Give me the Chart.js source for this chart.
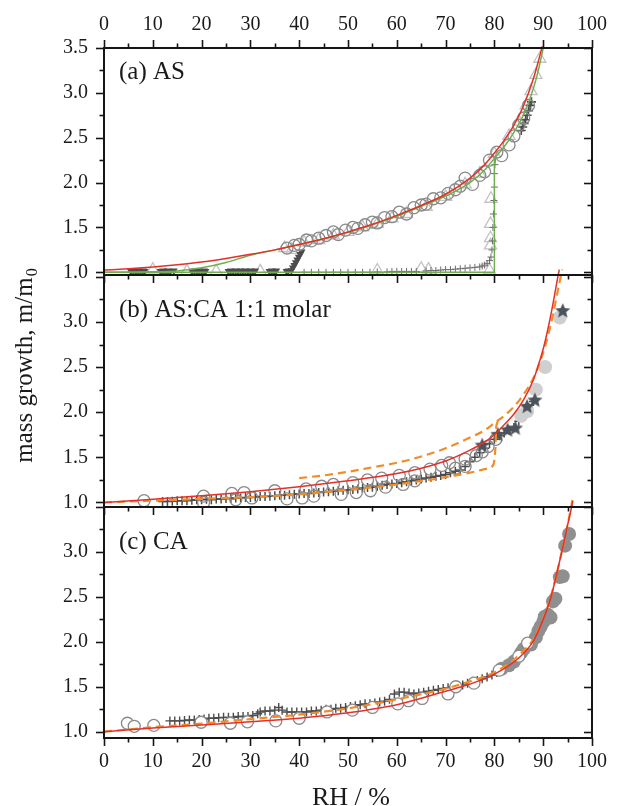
<!DOCTYPE html>
<html><head><meta charset="utf-8">
<script src="https://cdn.jsdelivr.net/npm/chart.js@4.4.1/dist/chart.umd.min.js"></script>
<style>
html,body{margin:0;padding:0;background:#fff;}
#wrap{position:relative;width:617px;height:806px;background:#fff;}
canvas{position:absolute;left:0;top:0;}
</style></head><body>
<div id="wrap">
<canvas id="ca" width="617" height="806"></canvas>
<canvas id="cb" width="617" height="806"></canvas>
<canvas id="cc" width="617" height="806"></canvas>
</div>
<script>
// ---------- axis ticks ----------
const xTickLabels = [0,10,20,30,40,50,60,70,80,90,100];
const xMinorTicks = [5,15,25,35,45,55,65,75,85,95];
const yTickLabels = [1.0,1.5,2.0,2.5,3.0,3.5];
const yMinorTicks = [1.25,1.75,2.25,2.75,3.25];

// ---------- panel (a) AS ----------
const aRedRH   = [0,5,10,15,20,25,30,35,40,45,50,55,60,65,70,75,78,80,82,84,86,88,89,89.8];
const aRedM    = [1.025,1.04,1.06,1.085,1.115,1.155,1.2,1.25,1.31,1.375,1.45,1.535,1.635,1.745,1.87,2.05,2.2,2.33,2.47,2.64,2.86,3.16,3.35,3.52];
const aGreenUpRH = [0,10,15,20,25,30,35,40,45,50,55,60,65,70,75,78,80,82,84,86,88,89,90];
const aGreenUpM  = [1.0,1.005,1.015,1.05,1.11,1.19,1.25,1.31,1.375,1.445,1.53,1.625,1.735,1.85,2.0,2.14,2.27,2.4,2.56,2.76,3.05,3.25,3.5];
const aGreenLoRH = [0,80,80];
const aGreenLoM  = [1.0,1.0,2.27];
const aCircRH = [37.5,39,40,41.5,42.5,44,45.5,47,48,49.5,51,52,53.5,55,56,57.5,59,60.5,62,63.5,65,66,67.5,69,70.5,72,73,74,75.5,77,78,79,80.5,81.5,83,84,85,86,87];
const aCircM  = [1.27,1.3,1.31,1.36,1.35,1.38,1.41,1.45,1.42,1.47,1.5,1.49,1.53,1.56,1.55,1.61,1.62,1.67,1.65,1.72,1.75,1.76,1.82,1.83,1.88,1.92,1.96,2.05,1.98,2.08,2.12,2.25,2.34,2.3,2.42,2.52,2.64,2.72,2.86];
const aTriRH = [37,38.5,41,44,47,50,53,56,59,62,66,70,74,77,80,83,85,86.5,87.5,88.5,89.3, 10,17,23,32,56,65,66.5,79, 79.2,79.2,79.2,79.3];
const aTriM  = [1.27,1.25,1.33,1.36,1.41,1.45,1.5,1.54,1.6,1.65,1.73,1.84,1.98,2.1,2.32,2.52,2.68,2.86,3.02,3.2,3.38, 1.03,1.01,1.01,1.01,1.02,1.04,1.03,1.02, 1.3,1.38,1.54,1.82];
const aDarkRH = [5.5,6,6.5,7,7.5,8,8.3, 11.6,12.1,12.6,13.1,13.6,14.3, 18,18.5,19,19.5,20,20.5,20.8, 25.5,26,26.5,27,27.5,28,28.5,29,29.5,30,30.5,31, 33.9,34.4,34.9,35.3, 37.4,37.8, 38.4,38.7,39,39.3,39.6,39.9,40.2,40.5];
const aDarkM  = [1.012,1.018,1.012,1.018,1.012,1.018,1.012, 1.012,1.018,1.012,1.018,1.012,1.018, 1.012,1.018,1.012,1.018,1.012,1.018,1.012, 1.012,1.018,1.012,1.018,1.012,1.018,1.012,1.018,1.012,1.018,1.012,1.018, 1.012,1.018,1.012,1.018, 1.012,1.018, 1.02,1.05,1.08,1.11,1.14,1.17,1.2,1.23];
const aTopRH = [85.5,85.8,86.1,86.4,86.7,87,87.3,87.6];
const aTopM  = [2.58,2.62,2.66,2.7,2.75,2.8,2.86,2.9];
const aMidRH = [41,42.5,44,45.5,47,48.5,50,51.5,53,54.5,56,58,59,60,61,62,63,64,66,67,68,69,70,71,72,73,74,75,76,77,77.5,78,78.5,79,79.3,79.5,79.6,79.7,79.8,79.9,80,80,80.1];
const aMidM  = [1.0,1.0,1.0,1.0,1.0,1.0,1.0,1.0,1.0,1.0,1.005,1.005,1.01,1.01,1.01,1.01,1.01,1.01,1.015,1.02,1.02,1.025,1.03,1.03,1.035,1.04,1.045,1.05,1.055,1.06,1.07,1.08,1.1,1.13,1.17,1.25,1.35,1.5,1.65,1.8,1.95,2.1,2.2];

// ---------- panel (b) AS:CA 1:1 ----------
const bRedRH = [0,10,20,30,40,50,60,65,70,75,78,80,82,84,86,88,89,90,91,92,93,93.3];
const bRedM  = [1.0,1.035,1.075,1.12,1.175,1.24,1.32,1.38,1.46,1.58,1.67,1.75,1.86,1.98,2.14,2.36,2.52,2.7,2.93,3.2,3.5,3.58];
const bDashUpRH = [40,45,50,55,60,65,70,75,78,80,82,84,86,88,90,91,92,93,93.9];
const bDashUpM  = [1.27,1.3,1.34,1.39,1.44,1.51,1.6,1.72,1.8,1.88,1.96,2.06,2.2,2.38,2.66,2.85,3.08,3.35,3.58];
const bDashLoRH = [0,10,20,30,40,50,60,70,75,78.8,79.8,80.2,80.4,81.5];
const bDashLoM  = [1.0,1.02,1.04,1.06,1.09,1.14,1.2,1.28,1.33,1.38,1.42,1.6,1.85,1.93];
const bCircRH = [8.2,20.4,20.4,26.2,27,28.7,30.3,35,37.5,40.6,41.4,43,44.6,47,48.6,51,51.7,54,54.6,56.9,57.7,60.5,61.3,63.7,63.7,66.8,69.2,70.8,72,74,74,76.3,77.5,78.7,80.3];
const bCircM  = [1.02,1.07,1.0,1.1,1.03,1.11,1.05,1.13,1.04,1.05,1.15,1.07,1.18,1.2,1.09,1.22,1.11,1.25,1.13,1.27,1.17,1.3,1.2,1.33,1.24,1.37,1.41,1.44,1.38,1.48,1.4,1.52,1.56,1.62,1.7];
const bCrossRH = [12,13,14,15,16,17,18,19,20,21,22,23,24,25,26,27,28,29,30,31,32,33,34,35,36,37,38,39,40,41,42,43,44,45,46,47,48,49,50,51,52,53,54,55,56,57,58,59,60,61,62,63,64,65,66,67,68,69,70,71,72,73,74,75,76,77,78,79,80,81,82,83,84,85,86,87,88];
const bCrossM  = [1.01,1.01,1.015,1.02,1.02,1.02,1.025,1.03,1.03,1.035,1.03,1.04,1.04,1.045,1.045,1.05,1.05,1.055,1.055,1.06,1.065,1.065,1.07,1.075,1.08,1.08,1.085,1.09,1.095,1.1,1.1,1.105,1.11,1.115,1.12,1.125,1.13,1.135,1.14,1.145,1.15,1.16,1.165,1.17,1.18,1.19,1.2,1.205,1.21,1.22,1.23,1.24,1.25,1.26,1.27,1.28,1.29,1.3,1.31,1.33,1.345,1.36,1.4,1.45,1.5,1.55,1.6,1.65,1.7,1.74,1.77,1.8,1.83,1.9,1.98,2.05,2.12];
const bLightRH = [85.5,86.7,88.5,90.4,93.4];
const bLightM  = [1.96,2.01,2.25,2.5,3.05];
const bStarRH = [77.5,80.7,82.7,84.3,86.7,88.3,94];
const bStarM  = [1.63,1.75,1.8,1.82,2.06,2.13,3.12];

// ---------- panel (c) CA ----------
const cRedRH = [0,10,20,30,40,50,60,70,75,80,85,88,90,91.5,92.7,93.5,94.3,95,95.9,96.1];
const cRedM  = [1.0,1.04,1.075,1.11,1.15,1.21,1.3,1.45,1.53,1.64,1.82,2.01,2.25,2.48,2.74,2.93,3.12,3.3,3.52,3.58];
const cDashRH = [0,10,20,30,40,50,60,70,75,80,85,88,90,91.5,92.7,93.5,94.3,95,95.8,96];
const cDashM  = [1.0,1.05,1.09,1.14,1.19,1.26,1.36,1.48,1.56,1.66,1.85,2.03,2.26,2.49,2.74,2.93,3.12,3.3,3.52,3.58];
const cCrossRH = [13.5,14.5,15.5,16.5,17.5,18.5,19.5,20.5,21.5,22.5,23.5,24.5,25.5,26.5,27.5,28.5,29.5,30.5,31.5,32,33,34,35,35.8,36.5,37.5,38.5,39.5,40.5,41.5,42.5,43.5,44.5,45.5,46.5,47.5,48.5,49.5,50.5,51.5,52.5,53.5,54.5,55.5,56.5,57.5,58.5,59.5,60.5,61.5,62.5,63.5,64.5,65.5,66.5,67.5,68.5,69.5,70.5,71.5,72.5,73.5,74.5,75.5,76.5,77.5,78.5,79.5,80.5,81.5,82.5,83.5,84.5,85.5,86.5,87.5,88.5,89.5,90.5];
const cCrossM  = [1.12,1.12,1.12,1.125,1.13,1.13,1.135,1.14,1.15,1.15,1.155,1.16,1.16,1.16,1.17,1.17,1.17,1.18,1.2,1.22,1.23,1.23,1.24,1.27,1.24,1.22,1.22,1.22,1.22,1.22,1.23,1.23,1.24,1.25,1.25,1.26,1.26,1.27,1.28,1.29,1.3,1.31,1.31,1.32,1.33,1.34,1.36,1.42,1.44,1.44,1.43,1.42,1.43,1.44,1.45,1.46,1.47,1.48,1.49,1.5,1.51,1.52,1.54,1.56,1.57,1.59,1.61,1.63,1.66,1.69,1.73,1.77,1.81,1.86,1.92,1.98,2.05,2.15,2.25];
const cOpenRH = [4.8,6.2,10.2,19.9,25.9,29.4,35.2,40,45.7,50.9,55,60.2,62.4,65.2,70.5,72.1,75.8,81,85,86.8];
const cOpenM  = [1.094,1.06,1.07,1.105,1.094,1.11,1.12,1.15,1.22,1.24,1.27,1.31,1.345,1.37,1.42,1.5,1.54,1.685,1.84,1.985];
const cFillRH = [81.5,83,84,85.5,86,87.5,88.5,89,89.5,90,90.3,91,91.5,92,92.5,93.4,94,94.5,95.3];
const cFillM  = [1.7,1.74,1.78,1.88,1.92,1.97,2.05,2.12,2.17,2.22,2.28,2.3,2.27,2.45,2.48,2.72,2.73,3.07,3.2];

// ---------- helpers ----------
const pts = (xs, ys) => xs.map((x, i) => ({x: x, y: ys[i]}));
const SERIF = '"Liberation Serif", "Times New Roman", serif';
const COL = {red:'#e5302a', green:'#6fae4f', orange:'#f28c28', circ:'#8a8a8a', tri:'#c2c2c2',
             dark:'#4c4c4c', mid:'#6c6c6c', light:'#cfcfcf', fill:'#8f8f8f', star:'#4b535b'};
const MAJOR = 8, MINOR = 4.5;

function starImage(r, color) {
  const c = document.createElement('canvas');
  const s = Math.ceil(2 * r + 2);
  c.width = c.height = s;
  const g = c.getContext('2d');
  g.fillStyle = color;
  g.beginPath();
  for (let i = 0; i < 10; i++) {
    const ang = -Math.PI / 2 + i * Math.PI / 5;
    const rr = (i % 2) ? r * 0.45 : r;
    g.lineTo(s / 2 + rr * Math.cos(ang), s / 2 + rr * Math.sin(ang));
  }
  g.closePath(); g.fill();
  return c;
}

function lineDs(xs, ys, color, opts) {
  return Object.assign({data: pts(xs, ys), showLine: true, pointRadius: 0, borderColor: color,
    borderWidth: 1.5, fill: false, tension: 0.4, cubicInterpolationMode: 'monotone'}, opts || {});
}
function markDs(xs, ys, style, radius, border, bg, bw, opts) {
  return Object.assign({data: pts(xs, ys), showLine: false, pointStyle: style, pointRadius: radius,
    borderColor: border, backgroundColor: bg, borderWidth: bw}, opts || {});
}

function framePlugin(cfg) {
  return {
    id: 'frame',
    afterDraw(chart) {
      const {ctx, chartArea: a, scales} = chart;
      const x = scales.x, y = scales.y;
      ctx.save();
      ctx.strokeStyle = '#151515';
      ctx.lineCap = 'butt';
      const line = (x1, y1, x2, y2) => { ctx.beginPath(); ctx.moveTo(x1, y1); ctx.lineTo(x2, y2); ctx.stroke(); };
      ctx.lineWidth = 1.6;
      const yt = yTickLabels.map(v => [v, MAJOR]).concat(yMinorTicks.map(v => [v, MINOR]));
      yt.forEach(([v, L]) => {
        if (v < y.min || v > y.max) return;
        const p = Math.round(y.getPixelForValue(v)) + 0.5;
        line(a.left - L, p, a.left, p);
        line(a.right - L, p, a.right, p);
      });
      const xt = xTickLabels.map(v => [v, MAJOR]).concat(xMinorTicks.map(v => [v, MINOR]));
      xt.forEach(([v, L]) => {
        const p = Math.round(x.getPixelForValue(v)) + 0.5;
        line(p, a.bottom, p, a.bottom + L);
        if (cfg.top) line(p, a.top - L, p, a.top);
      });
      ctx.lineWidth = 2;
      ctx.strokeRect(a.left, a.top, a.right - a.left, a.bottom - a.top);
      // panel label
      ctx.fillStyle = '#1a1a1a';
      ctx.font = '25px ' + SERIF;
      ctx.textAlign = 'left';
      ctx.textBaseline = 'middle';
      ctx.fillText(cfg.label, a.left + 15, a.top + cfg.labelDy);
      if (cfg.yTitle) {
        ctx.save();
        ctx.translate(32, 366);
        ctx.rotate(-Math.PI / 2);
        ctx.textBaseline = 'alphabetic';
        ctx.textAlign = 'left';
        const main = 'mass growth, m/m';
        ctx.font = '25px ' + SERIF;
        const w = ctx.measureText(main).width;
        ctx.font = '16px ' + SERIF;
        const w0 = ctx.measureText('0').width;
        const start = -(w + w0) / 2;
        ctx.font = '25px ' + SERIF;
        ctx.fillText(main, start, 0);
        ctx.font = '16px ' + SERIF;
        ctx.fillText('0', start + w + 1, 5);
        ctx.restore();
      }
      if (cfg.xTitle) {
        ctx.font = '26px ' + SERIF;
        ctx.textAlign = 'center';
        ctx.textBaseline = 'alphabetic';
        ctx.fillText('RH / %', 351, 805);
      }
      ctx.restore();
    }
  };
}

function makePanel(id, datasets, cfg) {
  return new Chart(document.getElementById(id), {
    type: 'scatter',
    data: {datasets: datasets},
    options: {
      responsive: false, animation: false, devicePixelRatio: 1,
      layout: {padding: {left: 0, right: 25, top: cfg.padTop, bottom: cfg.padBottom}},
      plugins: {legend: {display: false}, tooltip: {enabled: false}},
      scales: {
        x: {
          type: 'linear', min: 0, max: 100, position: cfg.xPos || 'bottom', display: !!cfg.xPos,
          grid: {display: false, drawTicks: false}, border: {display: false},
          ticks: {stepSize: 10, color: '#1a1a1a', font: {family: SERIF, size: 20, lineHeight: cfg.xLH || 1.2}, padding: 8, maxRotation: 0, autoSkip: false},
          afterFit: s => { s.height = cfg.xH || 0; }
        },
        y: {
          type: 'linear', min: cfg.yMin, max: cfg.yMax, position: 'left',
          grid: {display: false, drawTicks: false}, border: {display: false},
          ticks: {stepSize: 0.5, includeBounds: false, color: '#1a1a1a', font: {family: SERIF, size: 20}, padding: 16,
                  callback: v => (v > cfg.yLabelMax + 1e-9) ? '' : Number(v).toFixed(1)},
          afterFit: s => { s.width = 104; }
        }
      }
    },
    plugins: [framePlugin(cfg)]
  });
}

const starImg = starImage(8, COL.star);

// panel a
makePanel('ca', [
  lineDs(aRedRH, aRedM, COL.red, {clip: {left: 0, top: 4, right: 0, bottom: 0}}),
  lineDs(aGreenUpRH, aGreenUpM, COL.green),
  lineDs(aGreenLoRH, aGreenLoM, COL.green, {tension: 0, cubicInterpolationMode: 'default'}),
  markDs(aCircRH, aCircM, 'circle', 6, COL.circ, 'rgba(0,0,0,0)', 1.3),
  markDs(aMidRH, aMidM, 'cross', 3.5, COL.mid, COL.mid, 1),
  markDs(aTopRH, aTopM, 'cross', 4.5, COL.dark, COL.dark, 1.6),
  markDs(aDarkRH, aDarkM, 'triangle', 4.5, COL.dark, COL.dark, 0, {rotation: 180}),
  markDs(aTriRH, aTriM, 'triangle', 7, COL.tri, 'rgba(0,0,0,0)', 1.3)
], {padTop: 0, padBottom: 806 - 275, xPos: 'top', xH: 48, xLH: 1.5, yMin: 0.97, yMax: 3.5, yLabelMax: 3.5, top: true,
    label: '(a) AS', labelDy: 24});

// panel b
makePanel('cb', [
  lineDs(bRedRH, bRedM, COL.red, {clip: {left: 0, top: 6, right: 0, bottom: 0}}),
  lineDs(bDashUpRH, bDashUpM, COL.orange, {borderDash: [8, 5], borderWidth: 2.2, clip: {left: 0, top: 6, right: 0, bottom: 0}}),
  lineDs(bDashLoRH, bDashLoM, COL.orange, {borderDash: [8, 5], borderWidth: 2.2}),
  markDs(bStarRH, bStarM, starImg, 8, COL.star, COL.star, 0),
  markDs(bLightRH, bLightM, 'circle', 7, COL.light, COL.light, 0),
  markDs(bCircRH, bCircM, 'circle', 6, COL.circ, 'rgba(0,0,0,0)', 1.3),
  markDs(bCrossRH, bCrossM, 'cross', 4.5, COL.dark, COL.dark, 1.5)
], {padTop: 275, padBottom: 806 - 507, yMin: 0.95, yMax: 3.52, yLabelMax: 3.0, yTitle: true,
    label: '(b) AS:CA 1:1 molar', labelDy: 35});

// panel c
makePanel('cc', [
  lineDs(cRedRH, cRedM, COL.red, {clip: {left: 0, top: 6, right: 0, bottom: 0}}),
  lineDs(cDashRH, cDashM, COL.orange, {borderDash: [8, 5], borderWidth: 2.2, clip: {left: 0, top: 8, right: 0, bottom: 0}}),
  markDs(cOpenRH, cOpenM, 'circle', 6, COL.circ, '#ffffff', 1.3),
  markDs(cFillRH, cFillM, 'circle', 7, COL.fill, COL.fill, 0),
  markDs(cCrossRH, cCrossM, 'cross', 4.5, COL.dark, COL.dark, 1.4)
], {padTop: 507, padBottom: 0, xPos: 'bottom', xH: 68, xLH: 1.6, yMin: 0.93, yMax: 3.5, yLabelMax: 3.0, xTitle: true,
    label: '(c) CA', labelDy: 35});
</script>
</body></html>
